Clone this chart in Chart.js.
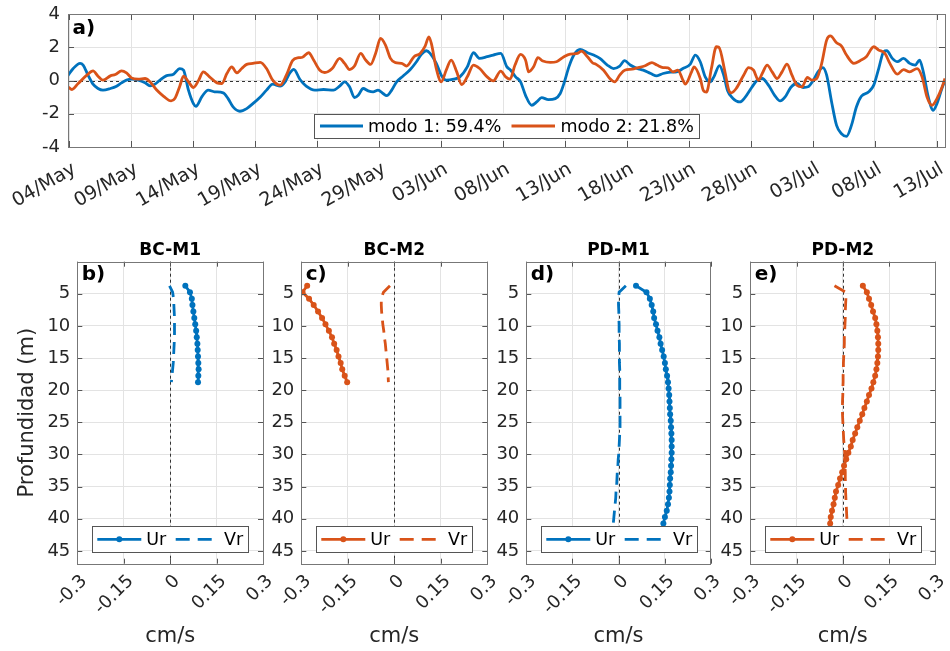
<!DOCTYPE html>
<html>
<head>
<meta charset="utf-8">
<script src="https://cdn.jsdelivr.net/npm/chart.js@4.4.1/dist/chart.umd.min.js"></script>
<style>
html, body { margin: 0; padding: 0; background: #fff; }
#lienzo { position: relative; width: 950px; height: 651px; }
#lienzo canvas { position: absolute; left: 0; top: 0; }
</style>
</head>
<body>
<div id="lienzo">
  <canvas id="serie" width="950" height="651"></canvas>
  <canvas id="bcm1" width="950" height="651"></canvas>
  <canvas id="bcm2" width="950" height="651"></canvas>
  <canvas id="pdm1" width="950" height="651"></canvas>
  <canvas id="pdm2" width="950" height="651"></canvas>
</div>
<script>
// ---- datos (a): dias desde 04/May y amplitud de cada modo ----
const diasTicks = [0, 5, 10, 15, 20, 25, 30, 35, 40, 45, 50, 55, 60, 65, 70];
const fechas = ['04/May', '09/May', '14/May', '19/May', '24/May', '29/May', '03/Jun', '08/Jun',
                '13/Jun', '18/Jun', '23/Jun', '28/Jun', '03/Jul', '08/Jul', '13/Jul'];
const yTicksSerie = [-4, -2, 0, 2, 4];

const diasModo1 = [-0.12, 0.3, 0.85, 1.1, 1.5, 1.9, 2.3, 2.7, 3.3, 3.8, 4.2, 4.6, 5.0, 5.55, 6.1, 6.5, 6.9, 7.3, 7.8, 8.4,
  8.9, 9.2, 9.6, 10.0, 10.2, 10.7, 11.2, 11.7, 12.4, 12.8, 13.2, 13.75, 14.3, 14.8, 15.4, 15.9, 16.4, 17.0, 17.4, 17.8,
  18.1, 18.6, 19.1, 19.8, 20.5, 21.3, 21.8, 22.2, 22.6, 23.0, 23.3, 23.7, 24.1, 24.5, 24.9, 25.3, 25.6, 26.0, 26.4, 26.9,
  27.5, 28.0, 28.4, 28.8, 29.1, 29.6, 30.0, 30.4, 31.0, 31.5, 32.1, 32.6, 33.1, 33.7, 34.2, 34.8, 35.3, 35.6, 36.0, 36.4,
  36.8, 37.3, 37.7, 38.1, 38.65, 39.2, 39.6, 39.9, 40.3, 40.7, 41.2, 41.8, 42.3, 42.8, 43.4, 43.9, 44.4, 44.8, 45.25, 45.8,
  46.3, 46.9, 47.4, 47.9, 48.5, 49.0, 49.5, 50.1, 50.5, 50.9, 51.3, 51.7, 52.0, 52.45, 52.8, 53.1, 53.5, 54.1, 54.5, 55.05,
  55.5, 55.9, 56.4, 56.9, 57.35, 57.75, 58.2, 58.7, 59.2, 59.6, 60.0, 60.4, 60.8, 61.1, 61.5, 61.9, 62.3, 62.7, 63.1, 63.5,
  63.9, 64.5, 64.9, 65.3, 65.7, 65.95, 66.4, 66.8, 67.3, 67.8, 68.25, 68.6, 68.9, 69.3, 69.7, 70.0, 70.4, 70.65];
const modo1 = [0.30, 0.72, 1.03, 0.93, 0.32, -0.22, -0.48, -0.58, -0.48, -0.34, -0.14, 0.02, 0.08, 0.02, -0.14, -0.32, -0.22, 0.02, 0.28, 0.38,
  0.72, 0.62, -0.58, -1.39, -1.55, -0.95, -0.58, -0.68, -0.74, -1.09, -1.59, -1.85, -1.69, -1.39, -0.99, -0.58, -0.22, -0.34, -0.08, 0.47,
  0.67, 0.06, -0.34, -0.58, -0.54, -0.58, -0.34, -0.08, -0.38, -1.03, -0.89, -0.48, -0.62, -0.68, -0.58, -0.78, -0.91, -0.58, -0.08, 0.26,
  0.66, 1.13, 1.57, 1.79, 1.63, 1.03, 0.32, 0.02, 0.08, 0.22, 0.82, 1.67, 1.33, 1.43, 1.53, 1.63, 0.82, 0.62, 0.22, -0.08,
  -0.89, -1.49, -1.29, -1.03, -1.15, -1.09, -0.78, -0.18, 0.82, 1.53, 1.87, 1.67, 1.53, 1.33, 0.93, 0.72, 0.87, 1.19, 0.93, 0.72,
  0.62, 0.42, 0.28, 0.42, 0.50, 0.52, 0.72, 0.99, 1.53, 1.13, 0.22, -0.08, 0.22, 0.90, 0.30, -0.60, -1.05, -1.29, -1.03, -0.42,
  0.02, 0.12, -0.28, -0.89, -1.23, -0.99, -0.42, -0.18, -0.42, -0.38, -0.02, 0.52, 0.78, 0.32, -1.29, -2.70, -3.20, -3.36, -2.70, -1.59,
  -0.95, -0.68, -0.28, 0.72, 1.73, 1.79, 1.33, 1.13, 1.33, 1.03, 0.93, 1.23, 0.52, -0.99, -1.79, -1.39, -0.48, 0.00];

const diasModo2 = [-0.12, 0.2, 0.7, 1.4, 1.9, 2.3, 2.7, 3.3, 3.7, 4.2, 4.6, 5.0, 5.55, 6.1, 6.5, 7.0, 7.6, 8.2, 8.5, 8.9,
  9.2, 9.6, 10.0, 10.4, 10.8, 11.3, 11.9, 12.3, 12.7, 13.1, 13.5, 13.9, 14.3, 14.8, 15.4, 15.9, 16.4, 17.0, 17.5, 18.0,
  18.5, 18.8, 19.3, 19.7, 20.2, 20.6, 21.2, 21.8, 22.2, 22.6, 23.0, 23.5, 23.9, 24.3, 24.7, 25.1, 25.5, 25.9, 26.3, 26.8,
  27.2, 27.8, 28.3, 28.7, 29.0, 29.2, 29.6, 30.0, 30.4, 30.8, 31.25, 31.65, 32.1, 32.6, 33.1, 33.7, 34.2, 34.8, 35.2, 35.55,
  35.95, 36.4, 36.8, 37.05, 37.45, 37.8, 38.2, 38.8, 39.3, 39.9, 40.4, 41.0, 41.3, 41.8, 42.2, 42.5, 43.1, 43.6, 44.0, 44.4,
  44.8, 45.4, 45.9, 46.4, 47.0, 47.4, 47.9, 48.3, 48.7, 49.1, 49.5, 49.7, 50.2, 50.4, 50.9, 51.15, 51.4, 51.8, 52.2, 52.4,
  52.9, 53.2, 53.4, 53.8, 54.4, 54.8, 55.2, 55.6, 55.9, 56.3, 56.7, 57.1, 57.5, 57.9, 58.3, 58.7, 59.1, 59.55, 59.9, 60.3,
  60.7, 61.1, 61.4, 61.9, 62.3, 62.7, 63.3, 63.8, 64.3, 64.9, 65.3, 65.8, 66.2, 66.8, 67.3, 67.8, 68.4, 68.8, 69.2, 69.6,
  70.0, 70.4, 70.65];
const modo2 = [-0.38, -0.54, -0.18, 0.32, 0.58, 0.26, 0.02, 0.28, 0.36, 0.58, 0.46, 0.16, 0.08, 0.12, -0.08, -0.54, -0.95, -1.23, -1.09, -0.34,
  0.26, -0.08, -0.42, -0.02, 0.52, 0.22, -0.14, -0.18, 0.42, 0.82, 0.46, 0.72, 0.97, 1.03, 1.09, 0.72, 0.02, -0.28, 0.32, 1.20,
  1.37, 1.40, 1.67, 1.23, 0.62, 0.48, 0.72, 1.33, 1.03, 0.66, 0.87, 1.63, 1.23, 0.97, 1.63, 2.53, 2.13, 1.33, 1.07, 1.03,
  0.87, 1.43, 1.63, 2.07, 2.63, 2.23, 0.72, -0.08, 0.62, 1.23, 0.52, -0.24, 0.22, 0.93, 0.72, 0.22, -0.02, 0.56, 0.22, 0.08,
  0.93, 1.57, 1.23, 0.52, 0.82, 1.37, 1.17, 1.09, 1.13, 1.43, 1.59, 1.63, 1.77, 1.43, 1.07, 0.97, 0.62, 0.12, -0.08, 0.32,
  0.62, 0.68, 0.78, 0.87, 1.07, 0.93, 0.78, 0.76, 0.52, 0.62, 0.02, -0.22, 0.52, 0.82, 0.12, -0.60, -0.70, 0.72, 2.03, 2.00,
  0.50, -0.58, -0.74, -0.48, 0.32, 0.78, 0.62, 0.02, 0.42, 0.93, 0.52, 0.12, 0.52, 0.99, 0.32, -0.28, -0.38, 0.18, 0.02, 0.12,
  1.03, 2.43, 2.68, 2.27, 2.07, 1.53, 1.03, 1.19, 1.43, 2.03, 1.83, 1.63, 1.03, 0.38, 0.66, 0.52, 0.72, 0.22, -0.99, -1.49,
  -1.09, -0.42, 0.12];

// ---- datos (b-e): perfiles verticales ----
const xTicksPerfil = [-0.3, -0.15, 0, 0.15, 0.3];
const xEtiquetasPerfil = ['-0.3', '-0.15', '0', '0.15', '0.3'];
const yTicksPerfil = [5, 10, 15, 20, 25, 30, 35, 40, 45];

const profBC = [3.75, 4.75, 5.75, 6.75, 7.75, 8.75, 9.75, 10.75, 11.75, 12.75, 13.75, 14.75, 15.75, 16.75, 17.75, 18.75];
const urBC1 = [0.049, 0.064, 0.070, 0.072, 0.075, 0.078, 0.081, 0.084, 0.086, 0.088, 0.089, 0.090, 0.091, 0.092, 0.091, 0.090];
const vrBC1 = [-0.002, 0.008, 0.011, 0.012, 0.013, 0.014, 0.014, 0.014, 0.014, 0.013, 0.012, 0.011, 0.010, 0.008, 0.006, 0.004];
const urBC2 = [-0.281, -0.296, -0.275, -0.260, -0.246, -0.233, -0.222, -0.211, -0.201, -0.194, -0.186, -0.180, -0.173, -0.168, -0.160, -0.152];
const vrBC2 = [-0.014, -0.035, -0.042, -0.042, -0.041, -0.039, -0.037, -0.034, -0.032, -0.029, -0.027, -0.025, -0.023, -0.021, -0.020, -0.019];

const profPD = [3.75, 4.75, 5.75, 6.75, 7.75, 8.75, 9.75, 10.75, 11.75, 12.75, 13.75, 14.75, 15.75, 16.75, 17.75, 18.75,
  19.75, 20.75, 21.75, 22.75, 23.75, 24.75, 25.75, 26.75, 27.75, 28.75, 29.75, 30.75, 31.75, 32.75, 33.75, 34.75,
  35.75, 36.75, 37.75, 38.75, 39.75, 40.75];
const urPD1 = [0.057, 0.091, 0.102, 0.108, 0.113, 0.116, 0.122, 0.127, 0.133, 0.137, 0.142, 0.147, 0.151, 0.154, 0.158, 0.161,
  0.163, 0.165, 0.166, 0.167, 0.168, 0.170, 0.171, 0.172, 0.173, 0.173, 0.173, 0.172, 0.171, 0.170, 0.168, 0.167,
  0.166, 0.164, 0.161, 0.157, 0.151, 0.146];
const vrPD1 = [0.024, 0.002, 0.000, 0.000, 0.001, 0.001, 0.002, 0.002, 0.002, 0.003, 0.003, 0.003, 0.003, 0.004, 0.004, 0.004,
  0.004, 0.005, 0.005, 0.005, 0.005, 0.005, 0.005, 0.004, 0.003, 0.002, 0.001, -0.001, -0.002, -0.004, -0.005, -0.006,
  -0.008, -0.009, -0.011, -0.013, -0.015, -0.017];
const urPD2 = [0.065, 0.078, 0.085, 0.092, 0.098, 0.105, 0.109, 0.112, 0.114, 0.115, 0.115, 0.114, 0.112, 0.109, 0.105, 0.099,
  0.093, 0.085, 0.078, 0.070, 0.063, 0.055, 0.047, 0.040, 0.032, 0.026, 0.018, 0.011, 0.004, -0.002, -0.009, -0.015,
  -0.022, -0.026, -0.030, -0.035, -0.039, -0.041];
const vrPD2 = [-0.027, 0.010, 0.010, 0.009, 0.008, 0.008, 0.007, 0.006, 0.005, 0.005, 0.004, 0.003, 0.002, 0.002, 0.001, 0.001,
  0.000, 0.000, -0.001, -0.001, -0.001, 0.000, 0.001, 0.002, 0.003, 0.005, 0.006, 0.007, 0.007, 0.008, 0.008, 0.009,
  0.009, 0.010, 0.011, 0.012, 0.013, 0.014];

const AZUL = '#0072BD';
const NARANJA = '#D95319';
const GRIS_TEXTO = '#262626';
const W = 950, H = 651;

Chart.defaults.font.family = "'DejaVu Sans', sans-serif";
Chart.defaults.color = GRIS_TEXTO;

// dibuja linea de cero, caja, marcas, leyenda y etiqueta del panel
const adornos = {
  id: 'adornos',
  beforeDatasetsDraw(chart, args, opts) {
    const { ctx, chartArea: a, scales } = chart;
    ctx.save();
    ctx.strokeStyle = '#333';
    ctx.lineWidth = 1;
    ctx.setLineDash([3, 3]);
    ctx.beginPath();
    if (opts.ceroX) {
      const x = Math.round(scales.x.getPixelForValue(0)) + 0.5;
      ctx.moveTo(x, a.top); ctx.lineTo(x, a.bottom);
    }
    if (opts.ceroY) {
      const y = Math.round(scales.y.getPixelForValue(0)) + 0.5;
      ctx.moveTo(a.left, y); ctx.lineTo(a.right, y);
    }
    ctx.stroke();
    ctx.restore();
  },
  afterDraw(chart, args, opts) {
    const { ctx, chartArea: a, scales } = chart;
    ctx.save();
    // marcas hacia dentro
    ctx.strokeStyle = '#555';
    ctx.lineWidth = 1;
    ctx.beginPath();
    const m = opts.marca;
    scales.x.ticks.forEach(t => {
      const x = Math.round(scales.x.getPixelForValue(t.value)) + 0.5;
      ctx.moveTo(x, a.top); ctx.lineTo(x, a.top + m);
      ctx.moveTo(x, a.bottom); ctx.lineTo(x, a.bottom - m);
    });
    scales.y.ticks.forEach(t => {
      const y = Math.round(scales.y.getPixelForValue(t.value)) + 0.5;
      ctx.moveTo(a.left, y); ctx.lineTo(a.left + m, y);
      ctx.moveTo(a.right, y); ctx.lineTo(a.right - m, y);
    });
    ctx.stroke();
    // caja
    ctx.strokeStyle = '#777';
    ctx.strokeRect(Math.round(a.left) + 0.5, Math.round(a.top) + 0.5,
                   Math.round(a.right - a.left), Math.round(a.bottom - a.top));

    // etiqueta del panel
    ctx.fillStyle = '#000';
    ctx.font = "bold 20px 'DejaVu Sans'";
    ctx.textBaseline = 'middle';
    ctx.textAlign = 'left';
    ctx.fillText(opts.etiqueta, a.left + opts.etqDx, a.top + opts.etqDy);

    // leyenda
    const ley = opts.leyenda;
    ctx.font = ley.fuente + "px 'DejaVu Sans'";
    const bx = a.left + ley.dx, by = a.bottom - ley.db - ley.alto;
    ctx.fillStyle = '#fff';
    ctx.fillRect(bx, by, ley.ancho, ley.alto);
    ctx.strokeStyle = '#555';
    ctx.strokeRect(Math.round(bx) + 0.5, Math.round(by) + 0.5, Math.round(ley.ancho), Math.round(ley.alto));
    const cy = by + ley.alto / 2;
    ley.items.forEach(it => {
      ctx.strokeStyle = it.color;
      ctx.lineWidth = 2.8;
      ctx.setLineDash(it.dash || []);
      ctx.beginPath();
      ctx.moveTo(bx + it.l0, cy); ctx.lineTo(bx + it.l1, cy);
      ctx.stroke();
      ctx.setLineDash([]);
      if (it.punto) {
        ctx.fillStyle = it.color;
        ctx.beginPath();
        ctx.arc(bx + (it.l0 + it.l1) / 2, cy, 3, 0, Math.PI * 2);
        ctx.fill();
      }
      ctx.fillStyle = '#000';
      ctx.fillText(it.texto, bx + it.tx, cy + 1);
    });
    ctx.restore();
  }
};

function rejilla() {
  return { color: '#e3e3e3', lineWidth: 1, drawTicks: false };
}

// ---- panel (a) ----
const areaSerie = { l: 68, t: 14, r: 945, b: 147 };
new Chart(document.getElementById('serie'), {
  type: 'scatter',
  data: {
    datasets: [
      { label: 'modo 1: 59.4%', data: diasModo1.map((d, i) => ({ x: d, y: modo1[i] })),
        borderColor: AZUL, backgroundColor: AZUL, showLine: true, pointRadius: 0, borderWidth: 2.8,
        cubicInterpolationMode: 'monotone', order: 1 },
      { label: 'modo 2: 21.8%', data: diasModo2.map((d, i) => ({ x: d, y: modo2[i] })),
        borderColor: NARANJA, backgroundColor: NARANJA, showLine: true, pointRadius: 0, borderWidth: 2.8,
        cubicInterpolationMode: 'monotone', order: 0 }
    ]
  },
  options: {
    responsive: false, animation: false, devicePixelRatio: 1,
    layout: { padding: { left: areaSerie.l - 60, top: areaSerie.t, right: W - areaSerie.r, bottom: H - areaSerie.b - 90 } },
    plugins: {
      legend: { display: false }, tooltip: { enabled: false },
      adornos: {
        ceroY: true, marca: 6, etiqueta: 'a)', etqDx: 4.5, etqDy: 14.5,
        leyenda: {
          fuente: 17.5, dx: 246, db: 9, ancho: 385, alto: 24,
          items: [
            { color: AZUL, l0: 6, l1: 49, tx: 54, texto: 'modo 1: 59.4%' },
            { color: NARANJA, l0: 197.5, l1: 241, tx: 246.5, texto: 'modo 2: 21.8%' }
          ]
        }
      }
    },
    scales: {
      x: {
        type: 'linear', min: -0.12, max: 70.65,
        afterBuildTicks: s => { s.ticks = diasTicks.map(v => ({ value: v })); },
        afterFit: s => { s.height = 90; s.paddingLeft = 0; s.paddingRight = 0; },
        grid: rejilla(), border: { display: false },
        ticks: { autoSkip: false, minRotation: 30, maxRotation: 30, padding: 11, labelOffset: 5,
                 font: { size: 19 }, color: GRIS_TEXTO, callback: (v, i) => fechas[i] }
      },
      y: {
        min: -4, max: 4,
        afterBuildTicks: s => { s.ticks = yTicksSerie.map(v => ({ value: v })); },
        afterFit: s => { s.width = 60; s.paddingTop = 0; s.paddingBottom = 0; },
        grid: rejilla(), border: { display: false },
        ticks: { padding: 8, font: { size: 18 }, color: GRIS_TEXTO }
      }
    }
  },
  plugins: [adornos]
});

// ---- paneles (b)-(e) ----
function panel(id, area, titulo, etiqueta, color, prof, ur, vr, tituloY) {
  const yw = 62;
  return new Chart(document.getElementById(id), {
    type: 'scatter',
    data: {
      datasets: [
        { label: 'Ur', data: prof.map((p, i) => ({ x: ur[i], y: p })),
          borderColor: color, backgroundColor: color, showLine: true, borderWidth: 2.8,
          pointRadius: 3, pointBorderWidth: 0, order: 1 },
        { label: 'Vr', data: prof.map((p, i) => ({ x: vr[i], y: p })),
          borderColor: color, backgroundColor: color, showLine: true, borderWidth: 2.8,
          borderDash: [12, 7], pointRadius: 0, order: 0 }
      ]
    },
    options: {
      responsive: false, animation: false, devicePixelRatio: 1,
      layout: { padding: { left: area.l - yw, top: 240.5, right: W - area.r, bottom: 0 } },
      plugins: {
        legend: { display: false }, tooltip: { enabled: false },
        title: { display: true, text: titulo, fullSize: false, color: '#000',
                 font: { size: 17, weight: 'bold' }, padding: { top: 0, bottom: 0.8 } },
        adornos: {
          ceroX: true, marca: 5, etiqueta: etiqueta, etqDx: 4.4, etqDy: 13.3,
          leyenda: {
            fuente: 17.5, dx: 15, db: 11.4, ancho: 156, alto: 26,
            items: [
              { color: color, l0: 5, l1: 49, tx: 54, texto: 'Ur', punto: true },
              { color: color, l0: 83.4, l1: 127.4, tx: 131.7, texto: 'Vr', dash: [14, 8] }
            ]
          }
        }
      },
      scales: {
        x: {
          type: 'linear', min: -0.3, max: 0.3,
          afterBuildTicks: s => { s.ticks = xTicksPerfil.map(v => ({ value: v })); },
          afterFit: s => { s.height = H - area.b; s.paddingLeft = 0; s.paddingRight = 0; },
          grid: rejilla(), border: { display: false },
          title: { display: true, text: 'cm/s', font: { size: 21 }, color: GRIS_TEXTO, padding: { top: 0, bottom: 2 } },
          ticks: { autoSkip: false, minRotation: 45, maxRotation: 45, padding: 7, labelOffset: 7,
                   font: { size: 18 }, color: GRIS_TEXTO, callback: (v, i) => xEtiquetasPerfil[i] }
        },
        y: {
          reverse: true, min: 0, max: 47,
          afterBuildTicks: s => { s.ticks = yTicksPerfil.map(v => ({ value: v })); },
          afterFit: s => { s.width = yw; s.paddingTop = 0; s.paddingBottom = 0; },
          grid: rejilla(), border: { display: false },
          title: { display: tituloY, text: 'Profundidad (m)', font: { size: 21 }, color: GRIS_TEXTO, padding: 0 },
          ticks: { padding: 7, font: { size: 18 }, color: GRIS_TEXTO }
        }
      }
    },
    plugins: [adornos]
  });
}

panel('bcm1', { l: 77.3, r: 263, b: 563.7 }, 'BC-M1', 'b)', AZUL, profBC, urBC1, vrBC1, true);
panel('bcm2', { l: 301.3, r: 487.3, b: 563.7 }, 'BC-M2', 'c)', NARANJA, profBC, urBC2, vrBC2, false);
panel('pdm1', { l: 526.3, r: 710.7, b: 563.7 }, 'PD-M1', 'd)', AZUL, profPD, urPD1, vrPD1, false);
panel('pdm2', { l: 750.3, r: 935.3, b: 563.7 }, 'PD-M2', 'e)', NARANJA, profPD, urPD2, vrPD2, false);
</script>
</body>
</html>
